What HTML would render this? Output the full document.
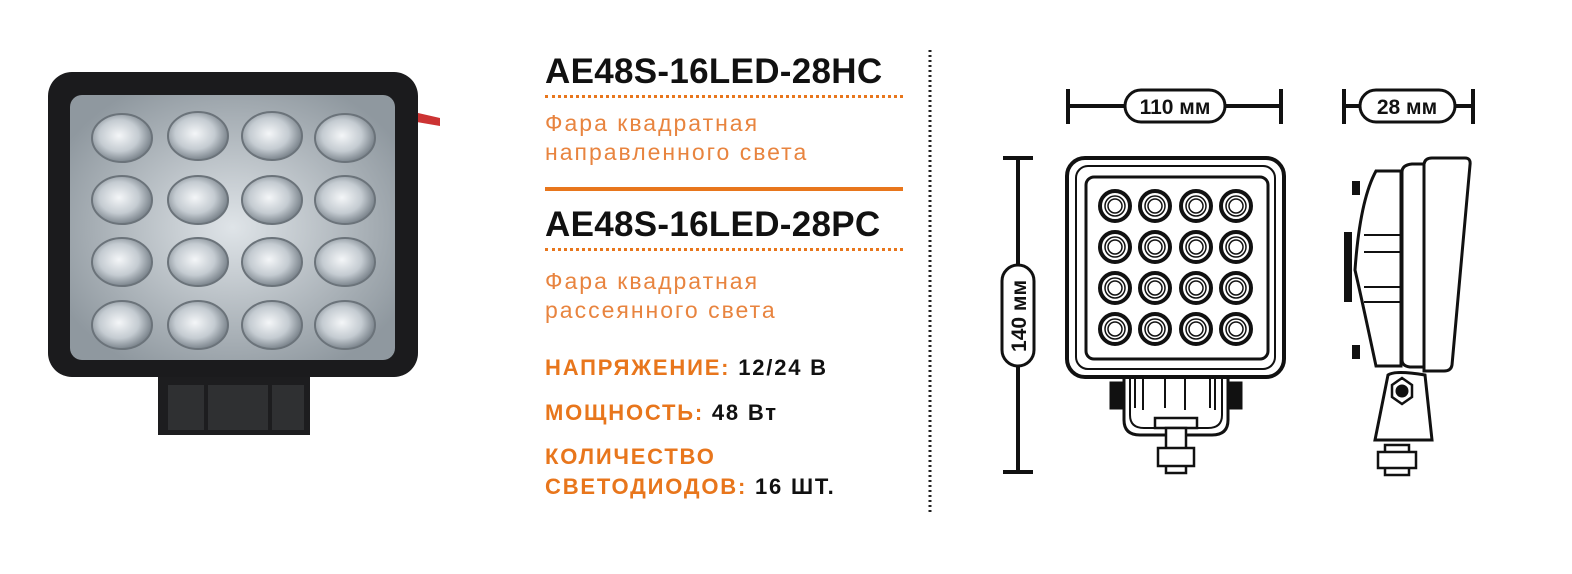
<!DOCTYPE html>
<html><head><meta charset="utf-8"><style>
body{margin:0;width:1572px;height:574px;background:#fff;position:relative;overflow:hidden;font-family:"Liberation Sans",sans-serif}
.t{position:absolute;left:545px;white-space:nowrap}
.h{font-weight:bold;font-size:35px;color:#111;letter-spacing:0.3px}
.s{font-size:23px;color:#e8843f;line-height:29px;letter-spacing:2px}
.p{font-size:22px;font-weight:bold;color:#111;line-height:30px;letter-spacing:1.8px}
.p b{color:#e8761c}
.dot{position:absolute;left:545px;width:358px;border-top:3px dotted #e8761c}
</style></head><body>
<svg width="1572" height="574" style="position:absolute;left:0;top:0">
<defs>
<radialGradient id="lens" cx="50%" cy="50%" r="60%"><stop offset="0" stop-color="#dfe4e8"/><stop offset="1" stop-color="#8f989f"/></radialGradient>
<radialGradient id="led" cx="45%" cy="45%" r="55%"><stop offset="0" stop-color="#f4f6f8"/><stop offset=".6" stop-color="#c4cbd1"/><stop offset="1" stop-color="#7c858d"/></radialGradient>
</defs>
<rect x="158" y="372" width="152" height="63" fill="#1d1d1f"/>
<rect x="168" y="385" width="36" height="45" fill="#2f3032"/><rect x="208" y="385" width="60" height="45" fill="#2f3032"/><rect x="272" y="385" width="32" height="45" fill="#2f3032"/>
<path d="M405 110 L440 118 L440 126 L405 120Z" fill="#c33"/>
<rect x="48" y="72" width="370" height="305" rx="24" fill="#1b1b1d"/>
<rect x="70" y="95" width="325" height="265" rx="12" fill="url(#lens)"/>
<g fill="url(#led)" stroke="#6b737a" stroke-width="2">
<ellipse cx="122" cy="138" rx="30" ry="24"/><ellipse cx="198" cy="136" rx="30" ry="24"/><ellipse cx="272" cy="136" rx="30" ry="24"/><ellipse cx="345" cy="138" rx="30" ry="24"/>
<ellipse cx="122" cy="200" rx="30" ry="24"/><ellipse cx="198" cy="200" rx="30" ry="24"/><ellipse cx="272" cy="200" rx="30" ry="24"/><ellipse cx="345" cy="200" rx="30" ry="24"/>
<ellipse cx="122" cy="262" rx="30" ry="24"/><ellipse cx="198" cy="262" rx="30" ry="24"/><ellipse cx="272" cy="262" rx="30" ry="24"/><ellipse cx="345" cy="262" rx="30" ry="24"/>
<ellipse cx="122" cy="325" rx="30" ry="24"/><ellipse cx="198" cy="325" rx="30" ry="24"/><ellipse cx="272" cy="325" rx="30" ry="24"/><ellipse cx="345" cy="325" rx="30" ry="24"/>
</g>
<line x1="930" y1="50" x2="930" y2="515" stroke="#222" stroke-width="3" stroke-dasharray="2 3"/>
<g stroke="#111" stroke-width="4" fill="none">
<line x1="1068" y1="89" x2="1068" y2="124"/><line x1="1281" y1="89" x2="1281" y2="124"/><line x1="1068" y1="106" x2="1281" y2="106"/>
<line x1="1344" y1="89" x2="1344" y2="124"/><line x1="1473" y1="89" x2="1473" y2="124"/><line x1="1344" y1="106" x2="1473" y2="106"/>
<line x1="1003" y1="158" x2="1033" y2="158"/><line x1="1003" y1="472" x2="1033" y2="472"/><line x1="1018" y1="158" x2="1018" y2="472"/>
</g>
<g stroke="#111" stroke-width="3" fill="#fff">
<rect x="1125" y="90" width="100" height="32" rx="16"/>
<rect x="1360" y="90" width="95" height="32" rx="16"/>
<rect x="1002" y="265" width="32" height="101" rx="16"/>
</g>
<g font-family="Liberation Sans" font-weight="bold" font-size="21" fill="#111" text-anchor="middle">
<text x="1175" y="114">110 мм</text><text x="1407" y="114">28 мм</text>
<text transform="translate(1026,316) rotate(-90)">140 мм</text>
</g>
<g stroke="#111" fill="none">
<rect x="1110" y="382" width="12" height="27" fill="#111"/><rect x="1230" y="382" width="12" height="27" fill="#111"/>
<path d="M1124 378 V420 Q1124 435 1140 435 H1212 Q1228 435 1228 420 V378" stroke-width="3"/>
<path d="M1130 378 V415 Q1130 428 1144 428 H1208 Q1222 428 1222 415 V378" stroke-width="2"/>
<path d="M1135 378V408 M1143 378V410 M1165 378V408 M1185 378V410 M1210 378V408 M1215 378V410" stroke-width="2"/>
<rect x="1155" y="418" width="42" height="10" fill="#fff" stroke-width="2.5"/>
<rect x="1166" y="428" width="20" height="45" fill="#fff" stroke-width="2.5"/>
<rect x="1158" y="448" width="36" height="18" fill="#fff" stroke-width="2.5"/>
<rect x="1067" y="158" width="217" height="219" rx="18" stroke-width="4" fill="#fff"/>
<rect x="1076" y="166" width="199" height="203" rx="12" stroke-width="2"/>
<rect x="1086" y="177" width="182" height="182" rx="8" stroke-width="3"/>
</g>
<g stroke="#111" fill="none">
<g id="r"><circle cx="1115" cy="206" r="15" stroke-width="4"/><circle cx="1115" cy="206" r="10" stroke-width="1.5"/><circle cx="1115" cy="206" r="7" stroke-width="1.5"/></g>
<use href="#r" x="40"/><use href="#r" x="81"/><use href="#r" x="121"/>
<use href="#r" y="41"/><use href="#r" x="40" y="41"/><use href="#r" x="81" y="41"/><use href="#r" x="121" y="41"/>
<use href="#r" y="82"/><use href="#r" x="40" y="82"/><use href="#r" x="81" y="82"/><use href="#r" x="121" y="82"/>
<use href="#r" y="123"/><use href="#r" x="40" y="123"/><use href="#r" x="81" y="123"/><use href="#r" x="121" y="123"/>
</g>
<g stroke="#111" stroke-width="3" fill="#fff">
<rect x="1385" y="445" width="24" height="30" stroke-width="2.5"/>
<rect x="1378" y="452" width="38" height="16" stroke-width="2.5"/>
<path d="M1388 375 Q1395 370 1425 375 L1432 440 H1375Z"/>
<path d="M1376 171 H1401 V366 H1376 Q1362 300 1355 270 Q1360 200 1376 171Z"/>
<path d="M1402 172 Q1402 165 1412 164 H1424 V367 H1410 Q1402 366 1402 360Z"/>
<path d="M1424 164 Q1425 158 1432 158 H1465 Q1471 158 1470 165 L1452 365 Q1451 371 1444 371 H1424Z"/>
<path d="M1364 235 H1401 M1364 252 H1401 M1364 287 H1401 M1364 302 H1401" stroke-width="2"/>
<polygon points="1392,385 1402,378 1412,385 1412,397 1402,404 1392,397" stroke-width="2.5"/>
<circle cx="1402" cy="391" r="5" fill="#111"/>
</g>
<rect x="1352" y="181" width="8" height="14" fill="#111"/><rect x="1344" y="232" width="8" height="70" fill="#111"/><rect x="1352" y="345" width="8" height="14" fill="#111"/>
</svg>
<div class="t h" style="top:52px">AE48S-16LED-28HC</div>
<div class="dot" style="top:95px"></div>
<div class="t s" style="top:109px">Фара квадратная<br>направленного света</div>
<div style="position:absolute;left:545px;top:187px;width:358px;height:4px;background:#e8761c"></div>
<div class="t h" style="top:205px">AE48S-16LED-28PC</div>
<div class="dot" style="top:248px"></div>
<div class="t s" style="top:267px">Фара квадратная<br>рассеянного света</div>
<div class="t p" style="top:353px"><b>НАПРЯЖЕНИЕ:</b> 12/24 В</div>
<div class="t p" style="top:398px"><b>МОЩНОСТЬ:</b> 48 Вт</div>
<div class="t p" style="top:442px"><b>КОЛИЧЕСТВО<br>СВЕТОДИОДОВ:</b> 16 ШТ.</div>
</body></html>
